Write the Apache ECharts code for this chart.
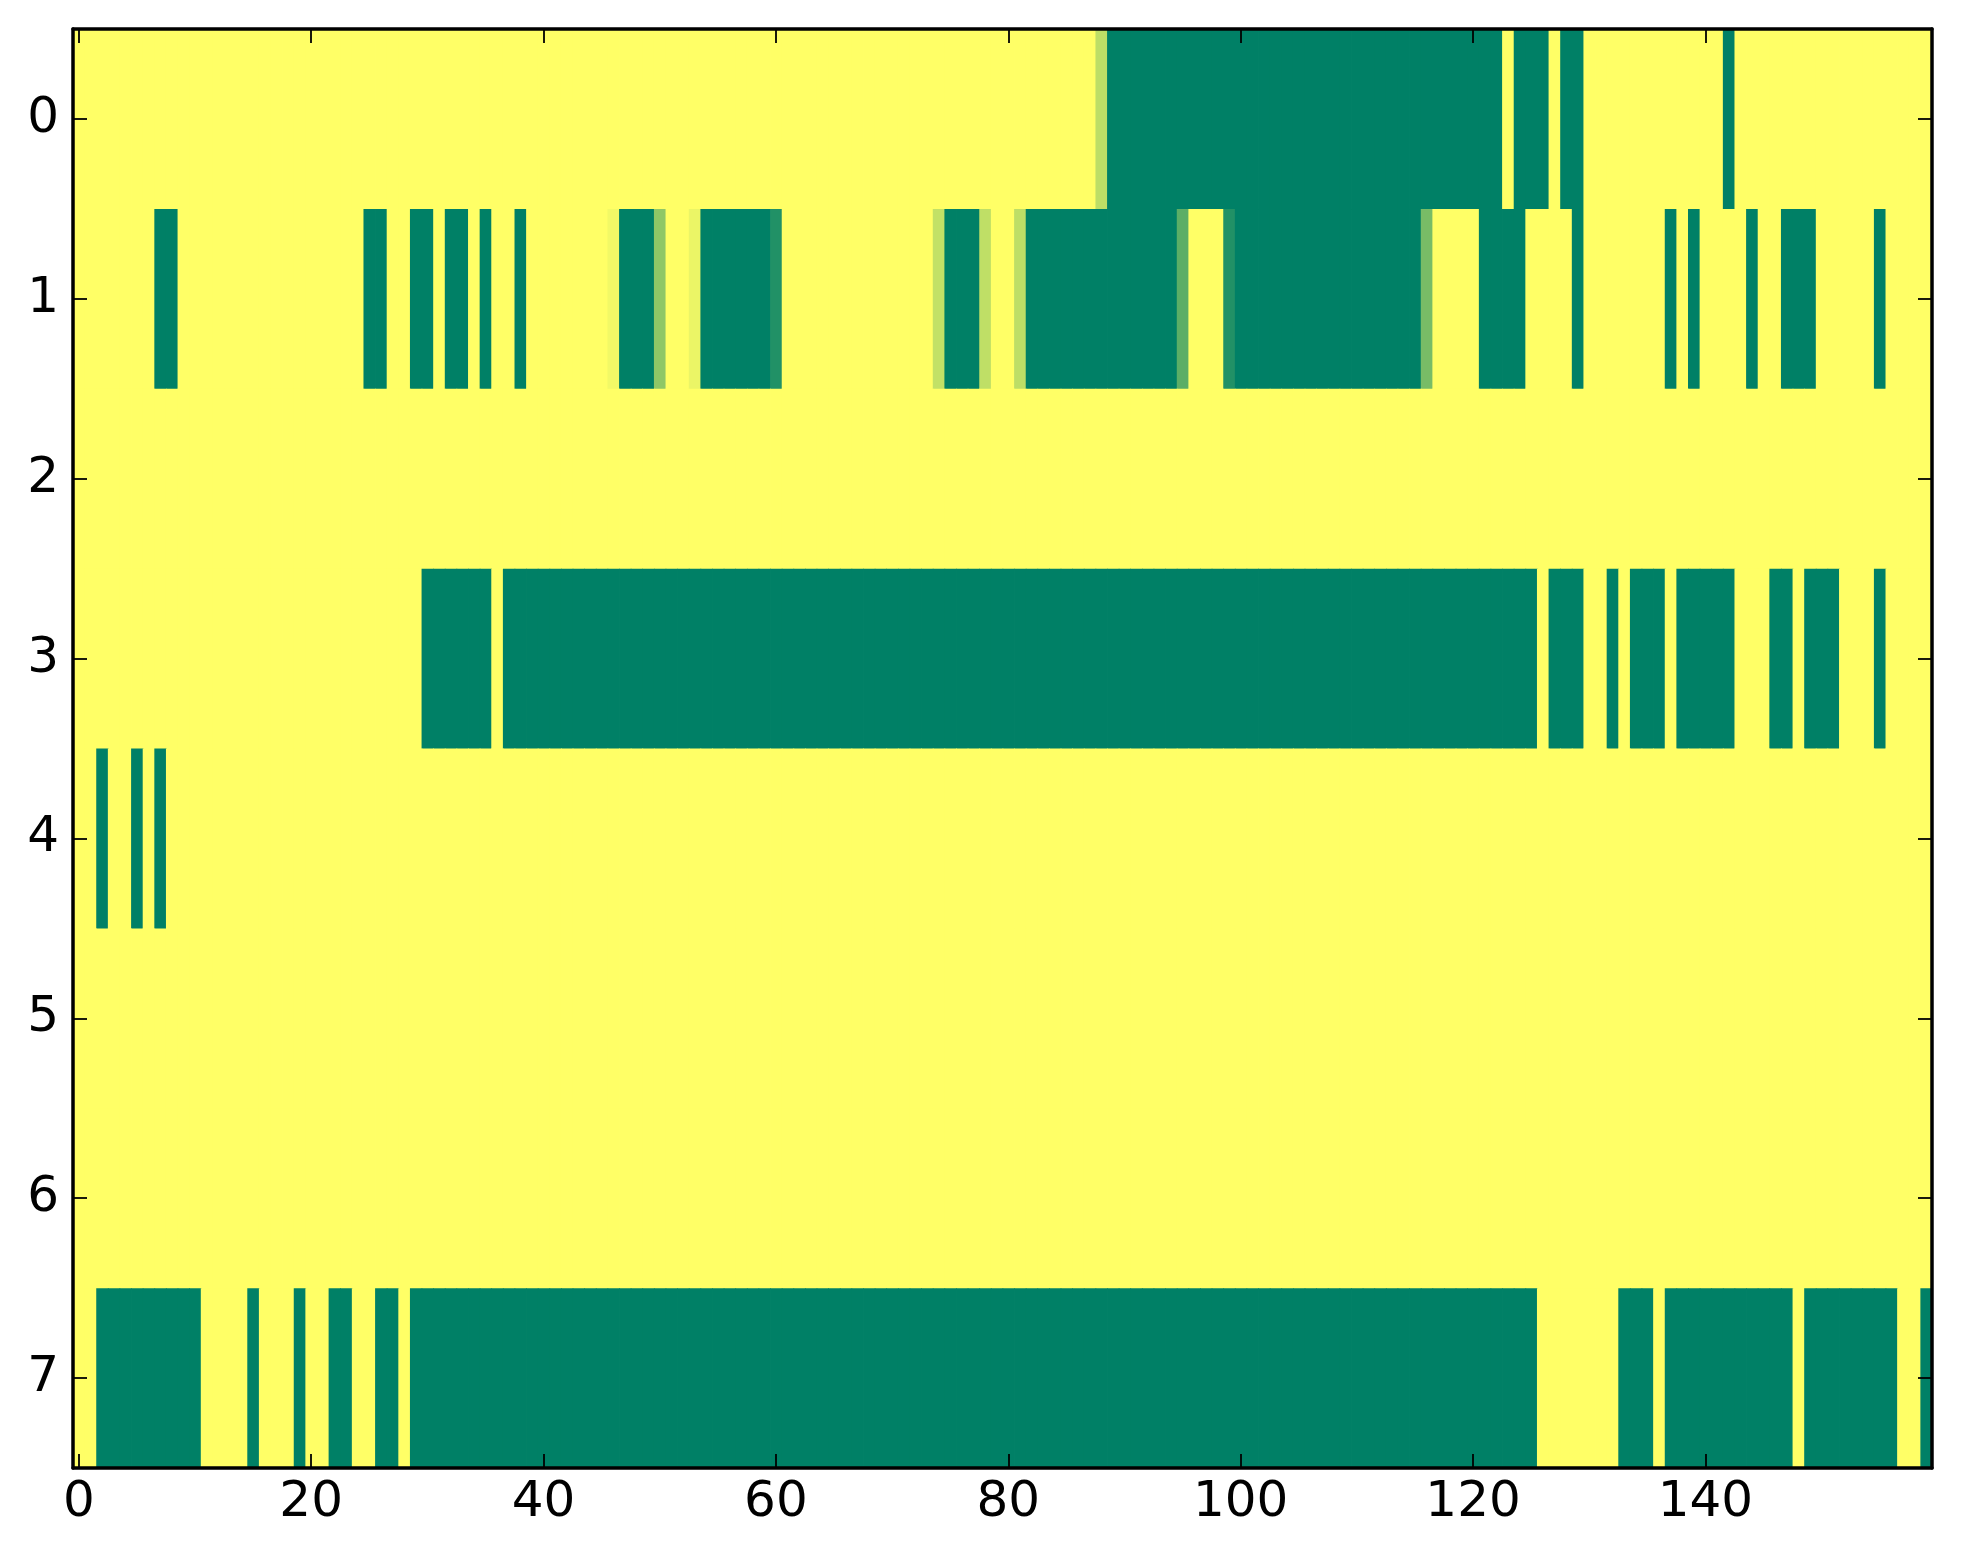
<!DOCTYPE html>
<html>
<head>
<meta charset="utf-8">
<script src="https://cdn.jsdelivr.net/npm/echarts@6/dist/echarts.min.js"></script>
<style>
html, body { margin: 0; padding: 0; background: #ffffff; }
#chart { width: 1963px; height: 1564px; }
</style>
</head>
<body>
<div id="chart"></div>
<script>
// Tick labels
var xTickLabels = ['0', '20', '40', '60', '80', '100', '120', '140'];
var yLabels = ['0', '1', '2', '3', '4', '5', '6', '7'];
var nCols = 160;

// Row values (1 = yellow end of the colormap, 0 = green end)
var row0 = [
  1,1,1,1,1,1,1,1,1,1,1,1,1,1,1,1,1,1,1,1,
  1,1,1,1,1,1,1,1,1,1,1,1,1,1,1,1,1,1,1,1,
  1,1,1,1,1,1,1,1,1,1,1,1,1,1,1,1,1,1,1,1,
  1,1,1,1,1,1,1,1,1,1,1,1,1,1,1,1,1,1,1,1,
  1,1,1,1,1,1,1,1,0.74,0,0,0,0,0,0,0,0,0,0,0,
  0,0,0,0,0,0,0,0,0,0,0,0,0,0,0,0,0,0,0,0,
  0,0,0,1,0,0,0,1,0,0,1,1,1,1,1,1,1,1,1,1,
  1,1,0,1,1,1,1,1,1,1,1,1,1,1,1,1,1,1,1,1
];
var row1 = [
  1,1,1,1,1,1,1,0,0,1,1,1,1,1,1,1,1,1,1,1,
  1,1,1,1,1,0,0,1,1,0,0,1,0,0,1,0,1,1,0,1,
  1,1,1,1,1,1,0.95,0,0,0,0.56,1,1,0.92,0,0,0,0,0,0,
  0.13,1,1,1,1,1,1,1,1,1,1,1,1,1,0.76,0,0,0,0.75,1,
  1,0.74,0,0,0,0,0,0,0,0,0,0,0,0,0,0.36,1,1,1,0.13,
  0,0,0,0,0,0,0,0,0,0,0,0,0,0,0,0,0.47,1,1,1,
  1,0,0,0,0,1,1,1,1,0,1,1,1,1,1,1,1,0,1,0,
  1,1,1,1,0,1,1,0,0,0,1,1,1,1,1,0,1,1,1,1
];
var row2 = [
  1,1,1,1,1,1,1,1,1,1,1,1,1,1,1,1,1,1,1,1,
  1,1,1,1,1,1,1,1,1,1,1,1,1,1,1,1,1,1,1,1,
  1,1,1,1,1,1,1,1,1,1,1,1,1,1,1,1,1,1,1,1,
  1,1,1,1,1,1,1,1,1,1,1,1,1,1,1,1,1,1,1,1,
  1,1,1,1,1,1,1,1,1,1,1,1,1,1,1,1,1,1,1,1,
  1,1,1,1,1,1,1,1,1,1,1,1,1,1,1,1,1,1,1,1,
  1,1,1,1,1,1,1,1,1,1,1,1,1,1,1,1,1,1,1,1,
  1,1,1,1,1,1,1,1,1,1,1,1,1,1,1,1,1,1,1,1
];
var row3 = [
  1,1,1,1,1,1,1,1,1,1,1,1,1,1,1,1,1,1,1,1,
  1,1,1,1,1,1,1,1,1,1,0,0,0,0,0,0,1,0,0,0,
  0,0,0,0,0,0,0,0,0,0,0,0,0,0,0,0,0,0,0,0,
  0,0,0,0,0,0,0,0,0,0,0,0,0,0,0,0,0,0,0,0,
  0,0,0,0,0,0,0,0,0,0,0,0,0,0,0,0,0,0,0,0,
  0,0,0,0,0,0,0,0,0,0,0,0,0,0,0,0,0,0,0,0,
  0,0,0,0,0,0,1,0,0,0,1,1,0,1,0,0,0,1,0,0,
  0,0,0,1,1,1,0,0,1,0,0,0,1,1,1,0,1,1,1,1
];
var row4 = [
  1,1,0,1,1,0,1,0,1,1,1,1,1,1,1,1,1,1,1,1,
  1,1,1,1,1,1,1,1,1,1,1,1,1,1,1,1,1,1,1,1,
  1,1,1,1,1,1,1,1,1,1,1,1,1,1,1,1,1,1,1,1,
  1,1,1,1,1,1,1,1,1,1,1,1,1,1,1,1,1,1,1,1,
  1,1,1,1,1,1,1,1,1,1,1,1,1,1,1,1,1,1,1,1,
  1,1,1,1,1,1,1,1,1,1,1,1,1,1,1,1,1,1,1,1,
  1,1,1,1,1,1,1,1,1,1,1,1,1,1,1,1,1,1,1,1,
  1,1,1,1,1,1,1,1,1,1,1,1,1,1,1,1,1,1,1,1
];
var row5 = [
  1,1,1,1,1,1,1,1,1,1,1,1,1,1,1,1,1,1,1,1,
  1,1,1,1,1,1,1,1,1,1,1,1,1,1,1,1,1,1,1,1,
  1,1,1,1,1,1,1,1,1,1,1,1,1,1,1,1,1,1,1,1,
  1,1,1,1,1,1,1,1,1,1,1,1,1,1,1,1,1,1,1,1,
  1,1,1,1,1,1,1,1,1,1,1,1,1,1,1,1,1,1,1,1,
  1,1,1,1,1,1,1,1,1,1,1,1,1,1,1,1,1,1,1,1,
  1,1,1,1,1,1,1,1,1,1,1,1,1,1,1,1,1,1,1,1,
  1,1,1,1,1,1,1,1,1,1,1,1,1,1,1,1,1,1,1,1
];
var row6 = [
  1,1,1,1,1,1,1,1,1,1,1,1,1,1,1,1,1,1,1,1,
  1,1,1,1,1,1,1,1,1,1,1,1,1,1,1,1,1,1,1,1,
  1,1,1,1,1,1,1,1,1,1,1,1,1,1,1,1,1,1,1,1,
  1,1,1,1,1,1,1,1,1,1,1,1,1,1,1,1,1,1,1,1,
  1,1,1,1,1,1,1,1,1,1,1,1,1,1,1,1,1,1,1,1,
  1,1,1,1,1,1,1,1,1,1,1,1,1,1,1,1,1,1,1,1,
  1,1,1,1,1,1,1,1,1,1,1,1,1,1,1,1,1,1,1,1,
  1,1,1,1,1,1,1,1,1,1,1,1,1,1,1,1,1,1,1,1
];
var row7 = [
  1,1,0,0,0,0,0,0,0,0,0,1,1,1,1,0,1,1,1,0,
  1,1,0,0,1,1,0,0,1,0,0,0,0,0,0,0,0,0,0,0,
  0,0,0,0,0,0,0,0,0,0,0,0,0,0,0,0,0,0,0,0,
  0,0,0,0,0,0,0,0,0,0,0,0,0,0,0,0,0,0,0,0,
  0,0,0,0,0,0,0,0,0,0,0,0,0,0,0,0,0,0,0,0,
  0,0,0,0,0,0,0,0,0,0,0,0,0,0,0,0,0,0,0,0,
  0,0,0,0,0,0,1,1,1,1,1,1,1,0,0,0,1,0,0,0,
  0,0,0,0,0,0,0,0,1,0,0,0,0,0,0,0,0,1,1,0
];
var rows = [row0, row1, row2, row3, row4, row5, row6, row7];

// Build library inputs
var xCategories = [];
for (var i = 0; i < nCols; i++) xCategories.push(String(i));
var cells = [];
rows.forEach(function (r, yi) {
  r.forEach(function (v, xi) { cells.push([xi, yi, v]); });
});

function isTick(idx) { return xTickLabels.indexOf(String(idx)) !== -1; }

var FONT = 'DejaVu Sans';
var chart = echarts.init(document.getElementById('chart'), null, { renderer: 'canvas' });
var lineStyle = { color: '#000', width: 3.5 };
var tickStyle = { color: '#000', width: 1.8 };

function renderCell(params, api) {
  var p = api.coord([api.value(0), api.value(1)]);
  var s = api.size([1, 1]);
  return {
    type: 'rect',
    shape: { x: p[0] - s[0] / 2, y: p[1] - s[1] / 2, width: s[0] + 0.8, height: s[1] + 0.8 },
    style: { fill: api.visual('color'), stroke: null }
  };
}

chart.setOption({
  animation: false,
  backgroundColor: '#ffffff',
  grid: { left: 73, right: 31, top: 29, bottom: 96, containLabel: false },
  xAxis: [
    {
      type: 'category', data: xCategories, position: 'bottom', z: 10,
      axisLine: { show: true, lineStyle: lineStyle },
      axisTick: { show: true, inside: true, length: 14, alignWithLabel: true, interval: function (idx) { return isTick(idx); }, lineStyle: tickStyle },
      axisLabel: { show: true, interval: function (idx) { return isTick(idx); }, margin: 10, fontFamily: FONT, fontSize: 50, color: '#000' },
      splitLine: { show: false }
    },
    {
      type: 'category', data: xCategories, position: 'top', z: 10,
      axisLine: { show: true, lineStyle: lineStyle },
      axisTick: { show: true, inside: true, length: 14, alignWithLabel: true, interval: function (idx) { return isTick(idx); }, lineStyle: tickStyle },
      axisLabel: { show: false },
      splitLine: { show: false }
    }
  ],
  yAxis: [
    {
      type: 'category', data: yLabels, inverse: true, position: 'left', z: 10,
      axisLine: { show: true, lineStyle: lineStyle },
      axisTick: { show: true, inside: true, length: 14, alignWithLabel: true, lineStyle: tickStyle },
      axisLabel: { show: true, margin: 14, fontFamily: FONT, fontSize: 50, color: '#000' },
      splitLine: { show: false }
    },
    {
      type: 'category', data: yLabels, inverse: true, position: 'right', z: 10,
      axisLine: { show: true, lineStyle: lineStyle },
      axisTick: { show: true, inside: true, length: 14, alignWithLabel: true, lineStyle: tickStyle },
      axisLabel: { show: false },
      splitLine: { show: false }
    }
  ],
  visualMap: {
    show: false, type: 'continuous', min: 0, max: 1, dimension: 2, seriesIndex: 0,
    inRange: { color: ['#008066', '#ffff66'] }
  },
  series: [{
    type: 'custom',
    xAxisIndex: 0, yAxisIndex: 0,
    renderItem: renderCell,
    encode: { x: 0, y: 1 },
    data: cells,
    clip: true,
    silent: true,
    z: 1
  }]
});
</script>
</body>
</html>
